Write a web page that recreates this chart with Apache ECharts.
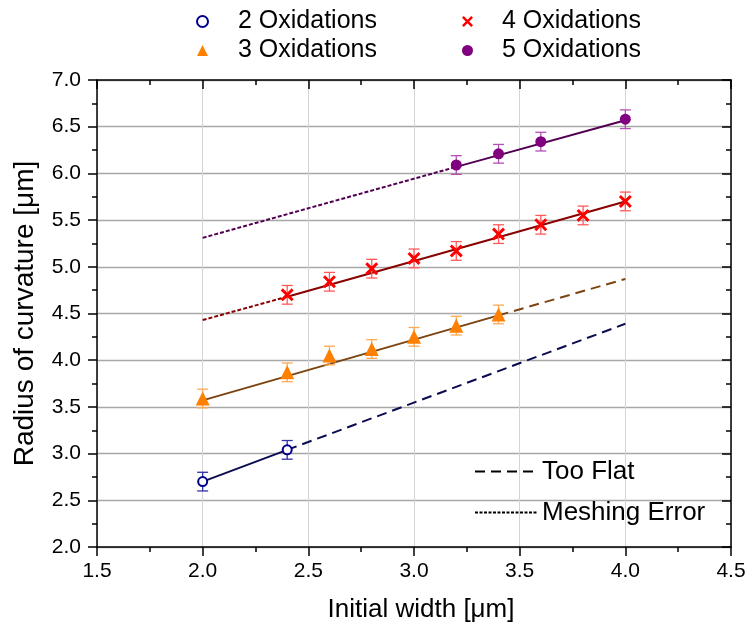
<!DOCTYPE html>
<html><head><meta charset="utf-8">
<script src="https://cdn.jsdelivr.net/npm/echarts@6/dist/echarts.min.js"></script>
<style>html,body{margin:0;padding:0;background:#fff}#c{width:749px;height:629px}</style>
</head><body><div id="c"></div>
<script>
// ---- data ----
const ox2X = [2.0, 2.4];
const ox2Y = [2.70, 3.04];
const ox2E = [0.10, 0.10];
const ox3X = [2.0, 2.4, 2.6, 2.8, 3.0, 3.2, 3.4];
const ox3Y = [3.59, 3.87, 4.05, 4.12, 4.25, 4.37, 4.49];
const ox3E = [0.10, 0.10, 0.10, 0.10, 0.10, 0.10, 0.10];
const ox4X = [2.4, 2.6, 2.8, 3.0, 3.2, 3.4, 3.6, 3.8, 4.0];
const ox4Y = [4.70, 4.84, 4.98, 5.09, 5.17, 5.35, 5.45, 5.55, 5.70];
const ox4E = [0.10, 0.10, 0.10, 0.10, 0.10, 0.10, 0.10, 0.10, 0.10];
const ox5X = [3.2, 3.4, 3.6, 4.0];
const ox5Y = [6.09, 6.21, 6.34, 6.58];
const ox5E = [0.10, 0.10, 0.10, 0.10];
// fit lines: [x, y] end points
const fit2Solid = [[2.0, 2.70], [2.4, 3.04]];
const fit2Flat  = [[2.4, 3.04], [4.0, 4.39]];
const fit3Solid = [[2.0, 3.57], [3.4, 4.48]];
const fit3Flat  = [[3.4, 4.48], [4.0, 4.87]];
const fit4Mesh  = [[2.0, 4.43], [2.4, 4.68]];
const fit4Solid = [[2.4, 4.68], [4.0, 5.70]];
const fit5Mesh  = [[2.0, 5.31], [3.2, 6.07]];
const fit5Solid = [[3.2, 6.07], [4.0, 6.57]];
const seriesNames = ['2 Oxidations', '3 Oxidations', '4 Oxidations', '5 Oxidations'];
const styleNames = ['Too Flat', 'Meshing Error'];
const xAxisTitle = 'Initial width [μm]';
const yAxisTitle = 'Radius of curvature [μm]';

const FONT = '"Liberation Sans", Arial, sans-serif';
const DASH = [10, 6];
const DOT = [4, 2];
const CROSS = 'path://M0,1.6 L1.6,0 L5,3.4 L8.4,0 L10,1.6 L6.6,5 L10,8.4 L8.4,10 L5,6.6 L1.6,10 L0,8.4 L3.4,5 Z';

function pts(xs, ys) { return xs.map((x, i) => [x, ys[i]]); }
function lineS(data, color, type) {
  return { type: 'line', data: data, symbol: 'none', silent: true, z: 2,
    lineStyle: { color: color, width: 2, type: type } };
}
function errS(name, xs, ys, es, color) {
  return {
    type: 'custom', name: name, silent: true, z: 3,
    data: xs.map((x, i) => [x, ys[i] - es[i], ys[i] + es[i]]),
    encode: { x: 0, y: [1, 2] },
    renderItem: function (params, api) {
      const lo = api.coord([api.value(0), api.value(1)]);
      const hi = api.coord([api.value(0), api.value(2)]);
      const w = 5.5;
      const st = { stroke: color, lineWidth: 1.3 };
      return { type: 'group', children: [
        { type: 'line', shape: { x1: lo[0], y1: lo[1], x2: hi[0], y2: hi[1] }, style: st },
        { type: 'line', shape: { x1: lo[0] - w, y1: lo[1], x2: lo[0] + w, y2: lo[1] }, style: st },
        { type: 'line', shape: { x1: hi[0] - w, y1: hi[1], x2: hi[0] + w, y2: hi[1] }, style: st }
      ] };
    }
  };
}

const axisLineStyle = { color: '#000', width: 1.5 };
function mkX(pos, main) {
  return {
    type: 'value', position: pos, min: 1.5, max: 4.5, interval: 0.5,
    axisLine: { show: true, onZero: false, lineStyle: axisLineStyle },
    axisTick: { show: true, inside: !main, length: 9, lineStyle: axisLineStyle },
    minorTick: { show: true, splitNumber: 2, length: 5, lineStyle: axisLineStyle },
    axisLabel: { show: main, margin: 14, fontSize: 21, fontFamily: FONT, color: '#000',
      formatter: v => v.toFixed(1) },
    splitLine: { show: main, lineStyle: { color: '#d4d4d4', width: 1 } },
    name: main ? xAxisTitle : '', nameLocation: 'middle', nameGap: 50,
    nameTextStyle: { fontSize: 26, fontFamily: FONT, color: '#000', padding: [0, 0, 0, 14] }
  };
}
function mkY(pos, main) {
  return {
    type: 'value', position: pos, min: 2, max: 7, interval: 0.5,
    axisLine: { show: true, onZero: false, lineStyle: axisLineStyle },
    axisTick: { show: true, inside: !main, length: 9, lineStyle: axisLineStyle },
    minorTick: { show: true, splitNumber: 2, length: 5, lineStyle: axisLineStyle },
    axisLabel: { show: main, margin: 16, fontSize: 21, fontFamily: FONT, color: '#000',
      formatter: v => v.toFixed(1) },
    splitLine: { show: main, lineStyle: { color: '#a8a8a8', width: 1.3 } },
    name: main ? yAxisTitle : '', nameLocation: 'middle', nameGap: 58,
    nameTextStyle: { fontSize: 28, fontFamily: FONT, color: '#000' }
  };
}

const legendText1 = { fontSize: 25, fontFamily: FONT, color: '#000', padding: [0, 0, 0, 25], lineHeight: 25 };
const legendText2 = { fontSize: 25, fontFamily: FONT, color: '#000', padding: [0, 0, 0, 24], lineHeight: 25 };

const option = {
  animation: false,
  backgroundColor: '#fff',
  grid: { left: 97, top: 80, width: 634, height: 467, containLabel: false },
  xAxis: [mkX('bottom', true), mkX('top', false)],
  yAxis: [mkY('left', true), mkY('right', false)],
  legend: [
    { data: [seriesNames[0], seriesNames[1]], orient: 'vertical', left: 191, top: 4,
      itemWidth: 11, itemHeight: 11, itemGap: 4, selectedMode: false, textStyle: legendText1 },
    { data: [seriesNames[2], seriesNames[3]], orient: 'vertical', left: 457, top: 4,
      itemWidth: 11, itemHeight: 11, itemGap: 4, selectedMode: false, textStyle: legendText2 },
    { data: styleNames, orient: 'vertical', left: 469, top: 453,
      itemWidth: 62, itemHeight: 14, itemGap: 14, selectedMode: false,
      itemStyle: { opacity: 0 },
      textStyle: { fontSize: 26, fontFamily: FONT, color: '#000', lineHeight: 27 } }
  ],
  series: [
    lineS(fit2Solid, '#0b0b4f', 'solid'),
    lineS(fit2Flat, '#0b0b4f', DASH),
    lineS(fit3Solid, '#7b4410', 'solid'),
    lineS(fit3Flat, '#7b4410', DASH),
    lineS(fit4Mesh, '#880000', DOT),
    lineS(fit4Solid, '#880000', 'solid'),
    lineS(fit5Mesh, '#520052', DOT),
    lineS(fit5Solid, '#520052', 'solid'),
    errS('e2', ox2X, ox2Y, ox2E, '#3030a8'),
    errS('e3', ox3X, ox3Y, ox3E, '#ffa850'),
    errS('e4', ox4X, ox4Y, ox4E, '#ff5a5a'),
    errS('e5', ox5X, ox5Y, ox5E, '#b450b4'),
    { type: 'scatter', name: seriesNames[0], data: pts(ox2X, ox2Y), symbol: 'circle', symbolSize: 9, z: 5,
      itemStyle: { color: '#fff', borderColor: '#00008b', borderWidth: 2, opacity: 1 } },
    { type: 'scatter', name: seriesNames[1], data: pts(ox3X, ox3Y), symbol: 'triangle', symbolSize: 14, z: 5,
      itemStyle: { color: '#ff8000', opacity: 1 } },
    { type: 'scatter', name: seriesNames[2], data: pts(ox4X, ox4Y), symbol: CROSS, symbolSize: 13, z: 5,
      itemStyle: { color: '#ff0000', opacity: 1 } },
    { type: 'scatter', name: seriesNames[3], data: pts(ox5X, ox5Y), symbol: 'circle', symbolSize: 11, z: 5,
      itemStyle: { color: '#800080', opacity: 1 } },
    { type: 'line', name: styleNames[0], data: [], symbol: 'none',
      lineStyle: { color: '#000', width: 2, type: DASH }, itemStyle: { color: '#000' } },
    { type: 'line', name: styleNames[1], data: [], symbol: 'none',
      lineStyle: { color: '#000', width: 1.5, type: [3, 1.5] }, itemStyle: { color: '#000' } }
  ]
};
const chart = echarts.init(document.getElementById('c'), null, { renderer: 'canvas' });
chart.setOption(option);
</script></body></html>
